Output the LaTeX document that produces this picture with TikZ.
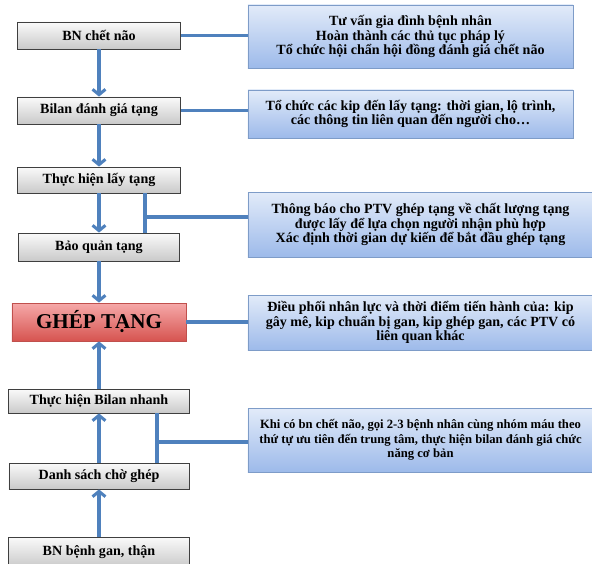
\documentclass[tikz,border=0pt]{standalone}
\usepackage{fontspec}
\setmainfont{Liberation Serif}
\usetikzlibrary{arrows.meta}
\definecolor{linkblue}{HTML}{4F81BD}
\definecolor{boxline}{HTML}{3F3F3F}
\definecolor{infoline}{HTML}{7E9CC8}
\definecolor{infotop}{HTML}{E2EBF9}
\definecolor{infobottom}{HTML}{9DBAEA}
\definecolor{redtop}{HTML}{F6A9A9}
\definecolor{redbottom}{HTML}{D65450}
\definecolor{redline}{HTML}{C0504D}
\begin{document}
\begin{tikzpicture}[
  x=0.03cm, y=-0.03cm,
  stepbox/.style={rectangle, draw=boxline, line width=0.7pt, inner sep=0pt, top color=gray!4, bottom color=gray!42, font=\fontsize{12}{13}\selectfont\bfseries},
  mainbox/.style={rectangle, draw=redline, line width=0.7pt, inner sep=0pt, top color=redtop, bottom color=redbottom, font=\fontsize{18}{20}\selectfont\bfseries},
  infobox/.style={rectangle, draw=infoline, line width=0.7pt, inner sep=0pt, top color=infotop, bottom color=infobottom, align=center, font=\fontsize{12}{12.5}\selectfont\bfseries},
  flow/.style={draw=linkblue, line width=2.6pt, -{Straight Barb[length=4.5pt,width=11pt]}},
  link/.style={draw=linkblue, line width=2.6pt}
]
\useasboundingbox (0,0) rectangle (592,563);

% Left column: steps
\node[stepbox, minimum width=4.89cm, minimum height=0.81cm] (bn) at (99, 35.5) {BN chết não};
\node[stepbox, minimum width=4.89cm, minimum height=0.81cm] (bilan) at (99, 110.5) {Bilan đánh giá tạng};
\node[stepbox, minimum width=4.89cm, minimum height=0.78cm] (layt) at (99, 180) {Thực hiện lấy tạng};
\node[stepbox, minimum width=4.83cm, minimum height=0.84cm] (baoq) at (99, 247) {Bảo quản tạng};
\node[mainbox, minimum width=5.22cm, minimum height=1.14cm] (ghep) at (99, 322) {GHÉP TẠNG};
\node[stepbox, minimum width=5.43cm, minimum height=0.72cm] (bilann) at (99, 401) {Thực hiện Bilan nhanh};
\node[stepbox, minimum width=5.4cm, minimum height=0.78cm] (dsach) at (99, 476) {Danh sách chờ ghép};
\node[stepbox, minimum width=5.43cm, minimum height=0.9cm] (bnbenh) at (99, 552) {BN bệnh gan, thận};

% Right column: notes
\node[infobox, minimum width=9.75cm, minimum height=1.89cm] (r1) at (410.5, 36.5)
  {Tư vấn gia đình bệnh nhân\\Hoàn thành các thủ tục pháp lý\\Tổ chức hội chẩn hội đồng đánh giá chết não};
\node[infobox, minimum width=9.75cm, minimum height=1.44cm] (r2) at (410.5, 114)
  {Tổ chức các kip đến lấy tạng: thời gian, lộ trình,\\các thông tin liên quan đến người cho…};
\node[infobox, minimum width=10.35cm, minimum height=1.95cm] (r3) at (420.5, 224.5)
  {Thông báo cho PTV ghép tạng về chất lượng tạng\\được lấy để lựa chọn người nhận phù hợp\\Xác định thời gian dự kiến để bắt đầu ghép tạng};
\node[infobox, minimum width=10.35cm, minimum height=1.65cm] (r4) at (420.5, 322.5)
  {Điều phối nhân lực và thời điểm tiến hành của: kip\\gây mê, kip chuẩn bị gan, kip ghép gan, các PTV có\\liên quan khác};
\node[infobox, minimum width=10.35cm, minimum height=1.92cm, font=\fontsize{10.8}{12.5}\selectfont\bfseries] (r5) at (420.5, 440)
  {Khi có bn chết não, gọi 2-3 bệnh nhân cùng nhóm máu theo\\thứ tự ưu tiên đến trung tâm, thực hiện bilan đánh giá chức\\năng cơ bản};

% --- Arrows down to GHÉP TẠNG ---
\foreach \a/\b in {bn/bilan, bilan/layt, layt/baoq, baoq/ghep} {
  \draw[flow] (\a) -- (\b);
}

% --- Arrows up to GHÉP TẠNG ---
\foreach \a/\b in {bnbenh/dsach, dsach/bilann, bilann/ghep} {
  \draw[flow] (\a) -- (\b);
}

% --- Links to the notes ---
\coordinate (j1) at (145, 217);
\coordinate (j2) at (157, 442);
\draw[link] (bn.east) -- (bn.east -| r1.west);
\draw[link] (bilan.east) -- (bilan.east -| r2.west);
\draw[link] (layt.south -| j1) -- (baoq.north -| j1);
\draw[link] (j1) -- (j1 -| r3.west);
\draw[link] (ghep.east) -- (ghep.east -| r4.west);
\draw[link] (bilann.south -| j2) -- (dsach.north -| j2);
\draw[link] (j2) -- (j2 -| r5.west);

\end{tikzpicture}
\end{document}
